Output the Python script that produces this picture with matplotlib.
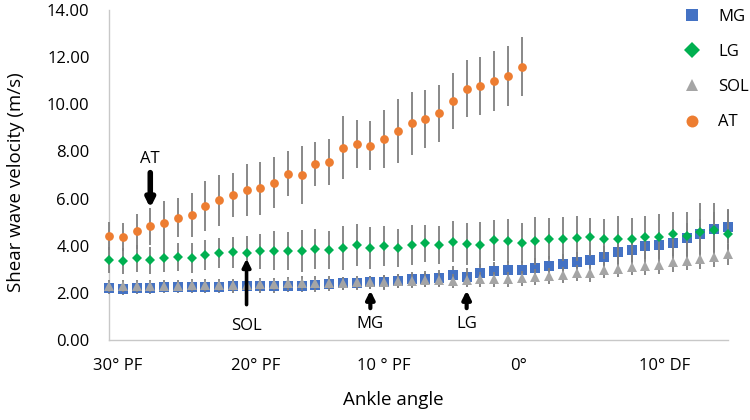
import numpy as np
import matplotlib
matplotlib.use("Agg")
import matplotlib.pyplot as plt
from matplotlib.lines import Line2D

plt.rcParams['font.family'] = ['Open Sans', 'DejaVu Sans']

# ankle angle in degrees (negative = plantar flexion, positive = dorsiflexion)
angle = [-30, -29, -28, -27, -26, -25, -24, -23, -22, -21, -20, -19, -18, -17, -16,
         -15, -14, -13, -12, -11, -10, -9, -8, -7, -6, -5, -4, -3, -2, -1, 0,
         1, 2, 3, 4, 5, 6, 7, 8, 9, 10, 11, 12, 13, 14, 15]
angle_at = angle[:31]

mg = [2.20, 2.16, 2.19, 2.21, 2.24, 2.24, 2.24, 2.26, 2.26, 2.27, 2.27, 2.27, 2.27, 2.30, 2.30,
      2.33, 2.37, 2.40, 2.40, 2.44, 2.44, 2.51, 2.58, 2.58, 2.62, 2.75, 2.69, 2.83, 2.93, 2.97, 2.97,
      3.07, 3.14, 3.21, 3.31, 3.38, 3.52, 3.74, 3.81, 3.98, 4.02, 4.13, 4.33, 4.48, 4.70, 4.81]
mg_sd = [0.25, 0.25, 0.25, 0.25, 0.25, 0.25, 0.25, 0.26, 0.26, 0.26, 0.27, 0.28, 0.28, 0.28, 0.28,
         0.28, 0.28, 0.29, 0.29, 0.29, 0.30, 0.30, 0.32, 0.33, 0.34, 0.40, 0.36, 0.38, 0.38, 0.38, 0.38,
         0.40, 0.42, 0.42, 0.44, 0.45, 0.48, 0.50, 0.52, 0.55, 0.56, 0.58, 0.62, 0.65, 0.75, 0.70]

lg = [3.38, 3.34, 3.47, 3.38, 3.47, 3.52, 3.48, 3.62, 3.68, 3.72, 3.71, 3.76, 3.78, 3.78, 3.78,
      3.85, 3.82, 3.90, 4.04, 3.90, 3.98, 3.89, 4.02, 4.10, 4.03, 4.16, 4.09, 4.04, 4.24, 4.20, 4.13,
      4.20, 4.30, 4.30, 4.31, 4.36, 4.30, 4.30, 4.27, 4.39, 4.38, 4.51, 4.41, 4.60, 4.67, 4.51]
lg_sd = [0.55, 0.55, 0.57, 0.58, 0.60, 0.60, 0.62, 0.63, 0.63, 0.65, 0.70, 0.73, 0.83, 0.80, 0.90,
         0.85, 0.80, 0.92, 0.90, 0.90, 0.86, 0.80, 0.85, 0.80, 0.80, 0.87, 0.89, 0.96, 0.87, 0.92, 0.85,
         1.03, 0.86, 0.93, 0.94, 0.80, 0.85, 0.94, 0.92, 0.87, 0.96, 0.93, 1.01, 1.20, 1.13, 1.03]

sol = [2.30, 2.28, 2.28, 2.30, 2.31, 2.31, 2.32, 2.33, 2.33, 2.34, 2.35, 2.37, 2.38, 2.40, 2.42,
       2.42, 2.43, 2.41, 2.44, 2.44, 2.47, 2.50, 2.52, 2.53, 2.55, 2.51, 2.56, 2.57, 2.58, 2.58, 2.62,
       2.68, 2.72, 2.75, 2.86, 2.83, 2.97, 3.03, 3.10, 3.14, 3.19, 3.29, 3.35, 3.43, 3.52, 3.64]
sol_sd = [0.25, 0.25, 0.25, 0.25, 0.25, 0.25, 0.25, 0.25, 0.26, 0.26, 0.26, 0.27, 0.27, 0.27, 0.28,
          0.28, 0.28, 0.28, 0.28, 0.29, 0.29, 0.29, 0.30, 0.30, 0.30, 0.31, 0.31, 0.31, 0.32, 0.32, 0.32,
          0.33, 0.33, 0.34, 0.34, 0.35, 0.35, 0.36, 0.36, 0.37, 0.38, 0.39, 0.40, 0.42, 0.42, 0.45]

at = [4.41, 4.37, 4.62, 4.83, 4.98, 5.19, 5.32, 5.68, 5.92, 6.15, 6.35, 6.43, 6.67, 7.06, 7.01,
      7.46, 7.54, 8.16, 8.32, 8.25, 8.52, 8.87, 9.19, 9.38, 9.62, 10.15, 10.66, 10.79, 10.99, 11.20, 11.59]
at_sd = [0.61, 0.61, 0.74, 0.78, 0.91, 0.82, 0.93, 1.06, 1.07, 0.93, 1.10, 1.13, 1.08, 0.96, 1.24,
         0.94, 0.98, 1.33, 1.02, 1.04, 1.24, 1.35, 1.33, 1.23, 1.20, 1.18, 1.21, 1.23, 1.27, 1.26, 1.25]

tick_pos = [-29.4, -19.3, -10, -0.2, 10.4]
tick_lab = ['30° PF', '20° PF', '10 ° PF', '0°', '10° DF']
y_ticks = [0, 2, 4, 6, 8, 10, 12, 14]

c_mg, c_lg, c_sol, c_at = '#4472C4', '#00B050', '#A5A5A5', '#ED7D31'
ebar = '#7F7F7F'

fig = plt.figure(figsize=(7.5, 4.2), dpi=100)
ax = fig.add_axes([109/750, 80/420, 619/750, 330/420])

series = [
    (angle, mg, mg_sd, c_mg, 's', 7.5),
    (angle, lg, lg_sd, c_lg, 'D', 5.2),
    (angle, sol, sol_sd, c_sol, '^', 6.5),
    (angle_at, at, at_sd, c_at, 'o', 6.3),
]
for i, (x, y, e, col, mk, ms) in enumerate(series):
    ax.errorbar(x, y, yerr=e, fmt=mk, color=col, ms=ms, mec=col, mew=0,
                ecolor=ebar, elinewidth=1.3, capsize=3, capthick=1.1,
                clip_on=False, zorder=3 + i)

# arrows marking the example angles
arrows = [('AT', -27, 7.1, 5.6, 7.68, 4.0),
          ('SOL', -20, 1.5, 3.45, 0.6, 2.6),
          ('MG', -11, 1.35, 2.1, 0.68, 3.0),
          ('LG', -4, 1.35, 2.1, 0.68, 3.0)]
for name, xa, y0, y1, yt, lw in arrows:
    ax.annotate('', xy=(xa, y1), xytext=(xa, y0),
                arrowprops=dict(arrowstyle='-|>', color='black', lw=lw,
                                mutation_scale=12, shrinkA=0, shrinkB=0),
                zorder=10)
    ax.text(xa, yt, name, ha='center', va='center', fontsize=12, color='black')

ax.set_xlim(-30, 15)
ax.set_ylim(0, 14)
ax.set_yticks(y_ticks)
ax.set_yticklabels([f'{v:.2f}' for v in y_ticks])
ax.set_xticks(tick_pos)
ax.set_xticklabels(tick_lab)
ax.tick_params(axis='both', length=0, labelsize=12, colors='#000000')
ax.tick_params(axis='y', pad=14)
ax.tick_params(axis='x', pad=13)
for s in ['top', 'right']:
    ax.spines[s].set_visible(False)
for s in ['left', 'bottom']:
    ax.spines[s].set_color('#C8C8C8')
    ax.spines[s].set_linewidth(1)

fig.text(16/750, 1 - 182/420, 'Shear wave velocity (m/s)', rotation=90,
         ha='center', va='center', fontsize=13.5)
fig.text(393/750, 1 - 400/420, 'Ankle angle', ha='center', va='center', fontsize=13.5)

handles = [Line2D([], [], ls='', marker='s', color=c_mg, ms=8.6, mew=0),
           Line2D([], [], ls='', marker='D', color=c_lg, ms=8.0, mew=0),
           Line2D([], [], ls='', marker='^', color=c_sol, ms=8.6, mew=0),
           Line2D([], [], ls='', marker='o', color=c_at, ms=8.6, mew=0)]
fig.legend(handles, ['MG', 'LG', 'SOL', 'AT'], loc='upper left',
           bbox_to_anchor=(684/750, 1 - 9/420), frameon=False, fontsize=12,
           handlelength=1.0, handletextpad=1.05, labelspacing=1.15,
           borderpad=0, borderaxespad=0)

fig.savefig('out.png', dpi=100)
